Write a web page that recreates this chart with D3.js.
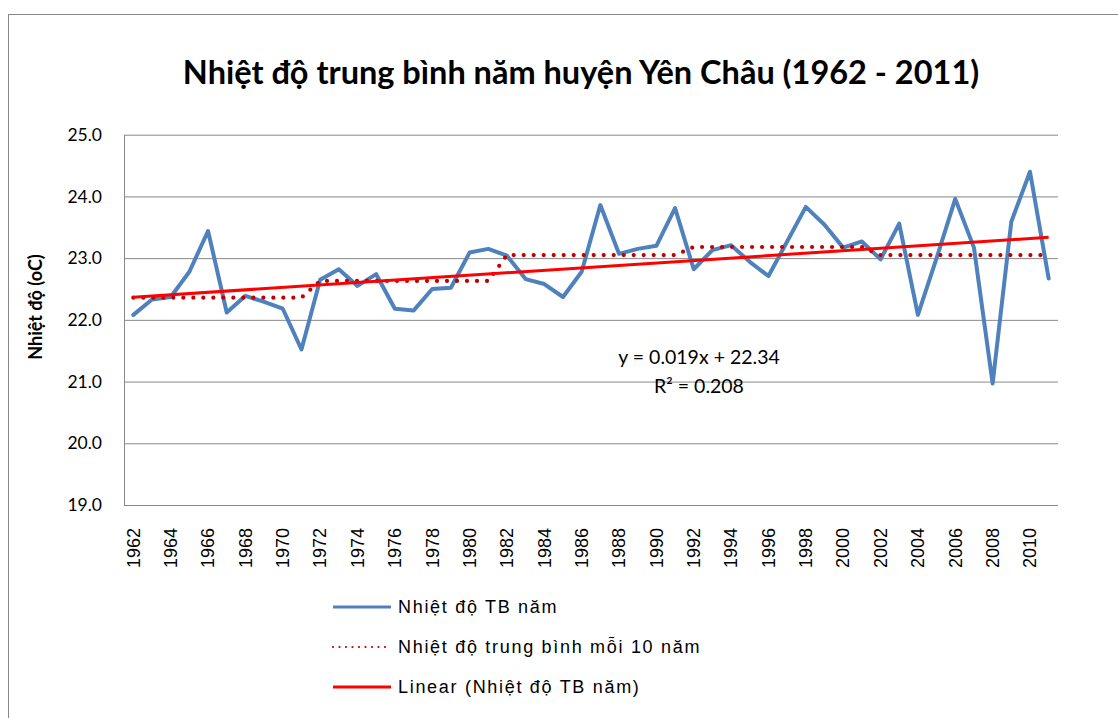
<!DOCTYPE html>
<html>
<head>
<meta charset="utf-8">
<script src="https://cdn.jsdelivr.net/npm/d3@7"></script>
<style>
  body { margin: 0; background: #fff; }
  svg { display: block; }
</style>
</head>
<body>
<svg id="chart"></svg>
<script>
// Năm quan trắc
const years = [1962, 1963, 1964, 1965, 1966, 1967, 1968, 1969, 1970, 1971,
  1972, 1973, 1974, 1975, 1976, 1977, 1978, 1979, 1980, 1981,
  1982, 1983, 1984, 1985, 1986, 1987, 1988, 1989, 1990, 1991,
  1992, 1993, 1994, 1995, 1996, 1997, 1998, 1999, 2000, 2001,
  2002, 2003, 2004, 2005, 2006, 2007, 2008, 2009, 2010, 2011];

// Nhiệt độ TB năm
const annualTemp = [22.08, 22.33, 22.37, 22.78, 23.44, 22.12, 22.39, 22.29, 22.18, 21.52,
  22.65, 22.82, 22.55, 22.74, 22.18, 22.15, 22.50, 22.52, 23.09, 23.15,
  23.04, 22.66, 22.58, 22.37, 22.78, 23.86, 23.07, 23.15, 23.20, 23.81,
  22.82, 23.13, 23.21, 22.94, 22.71, 23.27, 23.83, 23.54, 23.17, 23.27,
  22.98, 23.56, 22.08, 23.00, 23.96, 23.17, 20.97, 23.59, 24.40, 22.67];

// Nhiệt độ trung bình mỗi 10 năm
const decadeTemp = [22.36, 22.36, 22.36, 22.36, 22.36, 22.36, 22.36, 22.36, 22.36, 22.36,
  22.63, 22.63, 22.63, 22.63, 22.63, 22.63, 22.63, 22.63, 22.63, 22.63,
  23.05, 23.05, 23.05, 23.05, 23.05, 23.05, 23.05, 23.05, 23.05, 23.05,
  23.18, 23.18, 23.18, 23.18, 23.18, 23.18, 23.18, 23.18, 23.18, 23.18,
  23.05, 23.05, 23.05, 23.05, 23.05, 23.05, 23.05, 23.05, 23.05, 23.05];

const yTicks = [19, 20, 21, 22, 23, 24, 25];
const xLabelYears = years.filter((d, i) => i % 2 === 0);

const seriesNames = ["Nhiệt độ TB năm", "Nhiệt độ trung bình mỗi 10 năm", "Linear (Nhiệt độ TB năm)"];
const titleText = "Nhiệt độ trung bình năm huyện Yên Châu (1962 - 2011)";
const yTitle = "Nhiệt độ (oC)";
const equationText = ["y = 0.019x + 22.34", "R² = 0.208"];

const W = 1118, H = 718;
const plot = { left: 124, right: 1058, top: 134.7, bottom: 505 };

const svg = d3.select("#chart").attr("width", W).attr("height", H);

// khung ngoài
svg.append("rect")
  .attr("x", 8.5).attr("y", 14.5)
  .attr("width", W).attr("height", H)
  .attr("fill", "#fff")
  .attr("stroke", "#888").attr("stroke-width", 1);

const x = d3.scaleBand().domain(years).range([plot.left, plot.right]);
const cx = d => x(d) + x.bandwidth() / 2;
const y = d3.scaleLinear().domain([19, 25]).range([plot.bottom, plot.top]);

// trục y + lưới
const yAxis = svg.append("g")
  .attr("transform", `translate(${plot.left},0)`)
  .call(d3.axisLeft(y).tickValues(yTicks).tickFormat(d3.format(".1f"))
    .tickSize(-(plot.right - plot.left)).tickSizeOuter(0).tickPadding(22));
yAxis.selectAll(".tick line").attr("stroke", "#888").attr("stroke-width", 1);
yAxis.select(".domain").attr("stroke", "#888");
yAxis.selectAll(".tick text")
  .attr("font-family", "Lato, sans-serif").attr("font-size", 17.5).attr("fill", "#000");

// trục x
const xAxis = svg.append("g")
  .attr("transform", `translate(0,${plot.bottom})`)
  .call(d3.axisBottom(x).tickValues(xLabelYears).tickSize(0).tickSizeOuter(0));
xAxis.select(".domain").remove();
xAxis.selectAll(".tick text")
  .attr("font-family", "'Liberation Sans', Arial, sans-serif").attr("font-size", 18).attr("fill", "#000")
  .attr("transform", "rotate(-90)")
  .attr("text-anchor", "end")
  .attr("x", -23).attr("y", 0).attr("dy", "0.35em");

// đường xu hướng tuyến tính (bình phương nhỏ nhất)
const idx = years.map((d, i) => i + 1);
const mx = d3.mean(idx), my = d3.mean(annualTemp);
const slope = d3.sum(idx, (t, i) => (t - mx) * (annualTemp[i] - my)) / d3.sum(idx, t => (t - mx) ** 2);
const intercept = my - slope * mx;
const trend = years.map((d, i) => intercept + slope * (i + 1));

const line = d3.line().x((d, i) => cx(years[i])).y(d => y(d));

svg.append("path").datum(annualTemp)
  .attr("d", line).attr("fill", "none")
  .attr("stroke", "#4F81BD").attr("stroke-width", 4)
  .attr("stroke-linejoin", "round").attr("stroke-linecap", "round");

svg.append("path").datum(decadeTemp)
  .attr("d", line).attr("fill", "none")
  .attr("stroke", "#C00000").attr("stroke-width", 4.2)
  .attr("stroke-dasharray", "0 10").attr("stroke-linecap", "round");

svg.append("path").datum([trend[0], trend[trend.length - 1]])
  .attr("d", d3.line().x((d, i) => cx(years[i === 0 ? 0 : years.length - 1])).y(d => y(d)))
  .attr("fill", "none")
  .attr("stroke", "#FF0000").attr("stroke-width", 3);

// phương trình
svg.append("g").selectAll("text").data(equationText).enter().append("text")
  .attr("x", 699).attr("y", (d, i) => 364 + i * 29)
  .attr("text-anchor", "middle")
  .attr("font-family", "Lato, sans-serif").attr("font-size", 19.5).attr("fill", "#000")
  .text(d => d);

// tiêu đề
svg.append("text")
  .attr("x", 581).attr("y", 84)
  .attr("text-anchor", "middle")
  .attr("font-family", "Lato, sans-serif").attr("font-weight", "bold").attr("font-size", 32.5)
  .text(titleText);

svg.append("text")
  .attr("transform", "translate(36,307) rotate(-90)")
  .attr("text-anchor", "middle").attr("dy", "0.35em")
  .attr("font-family", "Lato, sans-serif").attr("font-weight", "bold").attr("font-size", 18)
  .text(yTitle);

// chú giải
const legendStyles = [
  { stroke: "#4F81BD", width: 3, dash: null, cap: "butt" },
  { stroke: "#C00000", width: 2.2, dash: "0 6.5", cap: "round" },
  { stroke: "#FF0000", width: 3, dash: null, cap: "butt" }
];
const legend = svg.append("g").selectAll("g").data(seriesNames).enter().append("g")
  .attr("transform", (d, i) => `translate(333,${607 + i * 40})`);
legend.append("line")
  .attr("x1", 0).attr("x2", 58).attr("y1", 0).attr("y2", 0)
  .attr("stroke", (d, i) => legendStyles[i].stroke)
  .attr("stroke-width", (d, i) => legendStyles[i].width)
  .attr("stroke-dasharray", (d, i) => legendStyles[i].dash)
  .attr("stroke-linecap", (d, i) => legendStyles[i].cap);
legend.append("text")
  .attr("x", 65).attr("dy", "0.35em")
  .attr("font-family", "'Liberation Sans', Arial, sans-serif").attr("font-size", 18)
  .attr("letter-spacing", 1.7).attr("fill", "#000")
  .text(d => d);
</script>
</body>
</html>
